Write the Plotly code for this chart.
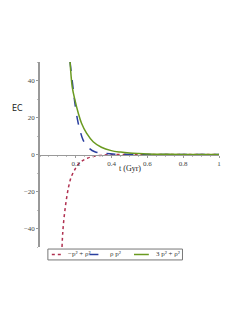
import plotly.graph_objects as go

# Data
t_red = [0.123, 0.127, 0.135, 0.147, 0.16, 0.175, 0.193, 0.21, 0.238, 0.265, 0.293, 0.35, 0.4, 0.5, 0.6, 0.8, 1.0]
ec_red = [-50, -42.4, -33.6, -24.6, -17.4, -12.0, -8.4, -5.7, -3.3, -2.0, -1.2, -0.3, -0.1, -0.02, -0.01, 0.0, 0.0]

t_blue = [0.168, 0.186, 0.195, 0.21, 0.223, 0.241, 0.269, 0.306, 0.361, 0.42, 0.5, 0.6, 0.8, 1.0]
ec_blue = [50, 34.9, 27.7, 18.6, 13.2, 7.8, 3.9, 1.5, 0.6, 0.2, 0.05, 0.01, 0.0, 0.0]

t_green = [0.168, 0.18, 0.195, 0.214, 0.232, 0.26, 0.297, 0.343, 0.398, 0.45, 0.5, 0.55, 0.6, 0.7, 0.8, 1.0]
ec_green = [50, 36.6, 29.5, 22.3, 16.9, 11.5, 6.9, 3.9, 2.1, 1.3, 0.8, 0.5, 0.3, 0.12, 0.05, 0.01]

names = ["\u2212p\u00b2 + \u03c1\u00b2", "\u03c1 p\u00b2", "3 p\u00b2 + \u03c1\u00b2"]
colors = ["#b03050", "#2a3f9f", "#6a9a20"]
dashes = ["dot", "dash", "solid"]
x_ticks = [0.2, 0.4, 0.6, 0.8, 1]
y_ticks = [-40, -20, 0, 20, 40]

fig = go.Figure()
for tx, ty, nm, c, d in zip([t_red, t_blue, t_green], [ec_red, ec_blue, ec_green], names, colors, dashes):
    fig.add_trace(go.Scatter(x=tx, y=ty, mode="lines", name=nm,
                             line=dict(color=c, width=1.5, dash=d, shape="spline")))

# manual legend (paper coordinates)
shapes = [dict(type="rect", xref="paper", yref="paper", x0=0.044, x1=0.796, y0=-0.070, y1=-0.011,
               line=dict(color="#777", width=1), fillcolor="white")]
seg = [(0.066, 0.122), (0.276, 0.370), (0.525, 0.608)]
txt_x = [0.221, 0.42, 0.715]
annotations = []
for (a, b), c, d, nm, tx in zip(seg, colors, dashes, names, txt_x):
    shapes.append(dict(type="line", xref="paper", yref="paper", x0=a, x1=b, y0=-0.0405, y1=-0.0405,
                       line=dict(color=c, width=1.5, dash=d)))
    annotations.append(dict(text=nm, x=tx, xref="paper", y=-0.0405, yref="paper", showarrow=False,
                            xanchor="center", yanchor="middle",
                            font=dict(size=7, color="#333")))

annotations += [
    dict(text="EC", x=-0.127, xref="paper", y=25, yref="y", showarrow=False,
         xanchor="center", yanchor="middle",
         font=dict(family="DejaVu Sans", size=8, color="#222")),
    dict(text="t (Gyr)", x=0.5, xref="x", y=-7.3, yref="y", showarrow=False,
         xanchor="center", yanchor="middle",
         font=dict(size=8, color="#222")),
]

# page body has an 8px margin, so the figure is sized/placed to compensate
fig.update_layout(
    width=225, height=296,
    margin=dict(l=32, r=12, t=54, b=57),
    paper_bgcolor="white", plot_bgcolor="white",
    font=dict(family="Liberation Serif", size=7, color="#444"),
    showlegend=False,
    xaxis=dict(range=[0, 1.0], tickvals=x_ticks, ticktext=["0.2", "0.4", "0.6", "0.8", "1"],
               showgrid=False, zeroline=False, showline=True, linecolor="#999", linewidth=1,
               anchor="free", position=0.5, ticks="outside", ticklen=2, tickcolor="#999",
               minor=dict(ticks="outside", ticklen=1, dtick=0.05, tickcolor="#bbb")),
    yaxis=dict(range=[-50, 50], tickvals=y_ticks, showgrid=False, zeroline=False,
               showline=True, linecolor="#999", linewidth=1.5, ticks="outside", ticklen=2,
               tickcolor="#999", minor=dict(ticks="outside", ticklen=1, dtick=10, tickcolor="#bbb")),
    shapes=shapes,
    annotations=annotations,
)

fig.write_html("out.html")
